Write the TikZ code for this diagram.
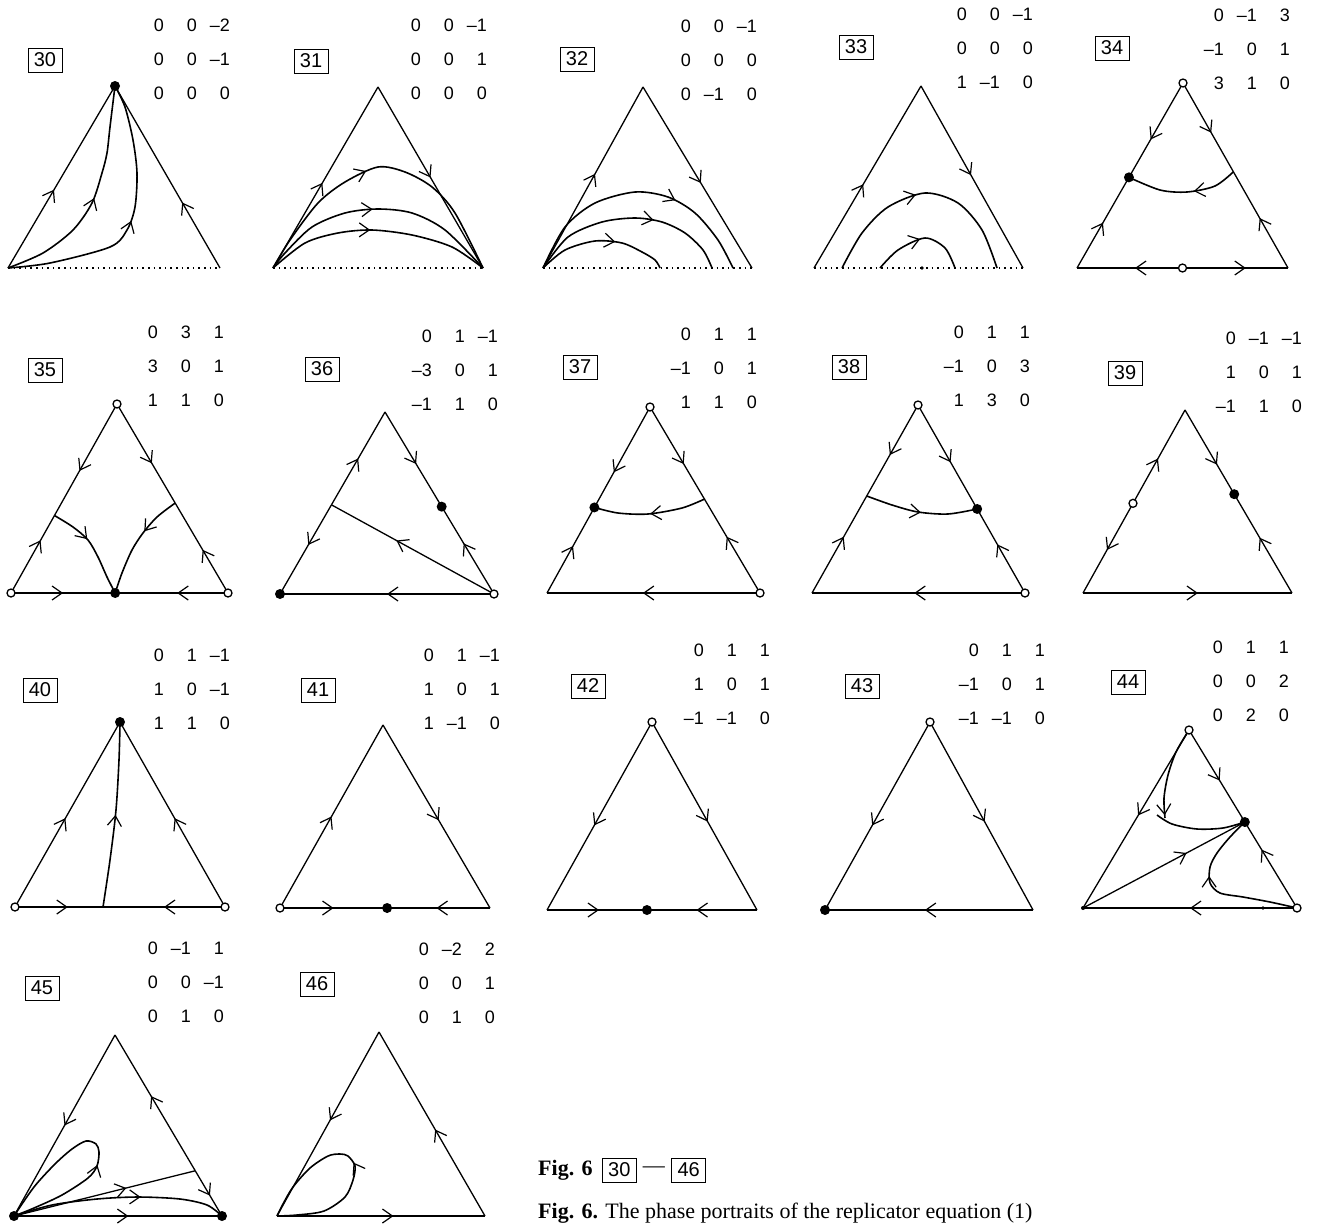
\documentclass[tikz,border=0pt]{standalone}
\usepackage{fontspec}
\setmainfont{Liberation Serif}
\setsansfont{Liberation Sans}
\usetikzlibrary{arrows.meta,decorations.markings,calc,positioning}
\tikzset{
  edge/.style={line width=1.3pt},
  orbit/.style={line width=1.6pt},
  dotbase/.style={line width=1.3pt,dash pattern=on 1.6pt off 4pt},
  flow/.style={postaction={decorate,decoration={markings,mark=at position #1 with {\arrow{Straight Barb[length=10pt,width=14pt,line width=1.2pt]}}}}},
  numbox/.style={draw,line width=1pt,inner sep=1pt,minimum width=34pt,minimum height=24pt,font=\sffamily\fontsize{20}{20}\selectfont},
  entry/.style={anchor=east,inner sep=0pt,font=\sffamily\fontsize{18}{18}\selectfont}
}
\newcommand\tri[6]{\coordinate (#1-L) at (#2,#3); \coordinate (#1-R) at (#4,#3); \coordinate (#1-A) at (#5,#6);}
\newcommand\payoff[3]{\foreach \entr [count=\k from 0] in {#3}{%
  \pgfmathsetmacro\cx{#1-33*(2-mod(\k,3))}\pgfmathsetmacro\cy{#2+34*int(\k/3)}%
  \node[entry] at (\cx,\cy) {\entr};}}
\newcommand\sinkat[1]{\fill (#1) circle (5pt);}
\newcommand\srcat[1]{\draw[edge,fill=white] (#1) circle (4pt);}
\begin{document}
\begin{tikzpicture}[x=1pt,y=-1pt]
  \fill[white] (0,0) rectangle (1324,1224);
  \useasboundingbox (0,0) rectangle (1324,1224);
  % 30
  \tri{p30}{8}{268}{220}{115}{86}
  \draw[dotbase] (p30-L) -- (p30-R);
  \draw[edge,flow=0.43] (p30-L) -- (p30-A);
  \draw[edge,flow=0.36] (p30-R) -- (p30-A);
  \draw[orbit,flow=0.5] plot[smooth] coordinates {(p30-L) (43,253) (73,230) (92,203) (102,173) (107,153) (110,127) (p30-A)};
  \draw[orbit,flow=0.5] plot[smooth] coordinates {(p30-L) (50,263) (110,247) (127,230) (135,207) (137,173) (133,140) (125,107) (p30-A)};
  \sinkat{p30-A}
  \node[numbox] (n30) at (45,60) {30};
  \payoff{230}{25}{0,0,--2,0,0,--1,0,0,0}
  % 31
  \tri{p31}{273}{268}{483}{378}{87}
  \draw[dotbase] (p31-L) -- (p31-R);
  \draw[edge,flow=0.47] (p31-L) -- (p31-A);
  \draw[edge,flow=0.5] (p31-A) -- (p31-R);
  \draw[orbit,flow=0.45] plot[smooth] coordinates {(p31-L) (290,240) (318,203) (345,182) (378,167) (405,172) (432,187) (455,213) (p31-R)};
  \draw[orbit,flow=0.48] plot[smooth] coordinates {(p31-L) (285,253) (312,227) (345,213) (378,209) (412,213) (445,230) (p31-R)};
  \draw[orbit,flow=0.47] plot[smooth] coordinates {(p31-L) (305,243) (338,233) (372,230) (412,235) (452,247) (p31-R)};
  \node[numbox] (n31) at (311,61) {31};
  \payoff{487}{25}{0,0,--1,0,0,1,0,0,0}
  % 32
  \tri{p32}{543}{268}{752}{643}{87}
  \draw[dotbase] (p32-L) -- (p32-R);
  \draw[edge,flow=0.52] (p32-L) -- (p32-A);
  \draw[edge,flow=0.53] (p32-A) -- (p32-R);
  \draw[orbit,flow=0.65] plot[smooth] coordinates {(p32-L) (565,227) (595,203) (635,192) (668,197) (695,213) (718,240) (733,268)};
  \draw[orbit,flow=0.62] plot[smooth] coordinates {(p32-L) (568,237) (602,222) (635,218) (662,222) (685,233) (703,250) (712,268)};
  \draw[orbit,flow=0.6] plot[smooth] coordinates {(p32-L) (565,250) (595,241) (622,243) (642,252) (655,260) (660,268)};
  \node[numbox] (n32) at (577,59) {32};
  \payoff{757}{26}{0,0,--1,0,0,0,0,--1,0}
  % 33
  \tri{p33}{814}{268}{1023}{921}{86}
  \draw[dotbase] (p33-L) -- (p33-R);
  \draw[edge,flow=0.46] (p33-L) -- (p33-A);
  \draw[edge,flow=0.49] (p33-A) -- (p33-R);
  \draw[orbit,flow=0.47] plot[smooth] coordinates {(842,268) (862,233) (888,207) (925,193) (958,203) (982,230) (997,268)};
  \draw[orbit,flow=0.5] plot[smooth] coordinates {(880,268) (898,250) (925,238) (945,248) (955,268)};
  \fill (922,268) circle (1.8pt);
  \node[numbox] (n33) at (856,47) {33};
  \payoff{1033}{14}{0,0,--1,0,0,0,1,--1,0}
  % 34
  \tri{p34}{1077}{268}{1288}{1183}{83}
  \coordinate (p34-D) at ($(p34-L)!0.49!(p34-A)$);
  \coordinate (p34-Q) at ($(p34-A)!0.48!(p34-R)$);
  \coordinate (p34-M) at ($(p34-L)!0.5!(p34-R)$);
  \draw[edge,flow=0.6] (p34-A) -- (p34-D);
  \draw[edge,flow=0.5] (p34-L) -- (p34-D);
  \draw[edge,flow=0.56] (p34-A) -- (p34-Q);
  \draw[edge,flow=0.52] (p34-R) -- (p34-Q);
  \draw[edge,flow=0.45] (p34-M) -- (p34-L);
  \draw[edge,flow=0.6] (p34-M) -- (p34-R);
  \draw[orbit,flow=0.4] plot[smooth] coordinates {(p34-Q) (1215,186) (1187,192) (1160,190) (p34-D)};
  \srcat{p34-A} \srcat{p34-M} \sinkat{p34-D}
  \node[numbox] (n34) at (1112,48) {34};
  \payoff{1290}{15}{0,--1,3,--1,0,1,3,1,0}
  % 35
  \tri{p35}{11}{593}{228}{117}{404}
  \coordinate (p35-M) at ($(p35-L)!0.48!(p35-R)$);
  \coordinate (p35-S) at ($(p35-L)!0.41!(p35-A)$);
  \coordinate (p35-T) at ($(p35-R)!0.476!(p35-A)$);
  \draw[edge,flow=0.6] (p35-A) -- (p35-S);
  \draw[edge,flow=0.68] (p35-L) -- (p35-S);
  \draw[edge,flow=0.6] (p35-A) -- (p35-T);
  \draw[edge,flow=0.48] (p35-R) -- (p35-T);
  \draw[edge,flow=0.5] (p35-L) -- (p35-M);
  \draw[edge,flow=0.45] (p35-R) -- (p35-M);
  \draw[orbit,flow=0.4] plot[smooth] coordinates {(p35-S) (73,527) (88,540) (98,557) (107,577) (p35-M)};
  \draw[orbit,flow=0.38] plot[smooth] coordinates {(p35-T) (157,517) (143,533) (132,550) (122,573) (p35-M)};
  \srcat{p35-A} \srcat{p35-L} \srcat{p35-R} \sinkat{p35-M}
  \node[numbox] (n35) at (45,370) {35};
  \payoff{224}{332}{0,3,1,3,0,1,1,1,0}
  % 36
  \tri{p36}{280}{594}{494}{385}{412}
  \coordinate (p36-P) at ($(p36-L)!0.49!(p36-A)$);
  \coordinate (p36-D) at ($(p36-A)!0.52!(p36-R)$);
  \draw[edge,flow=0.5] (p36-P) -- (p36-A);
  \draw[edge,flow=0.45] (p36-P) -- (p36-L);
  \draw[edge,flow=0.55] (p36-A) -- (p36-D);
  \draw[edge,flow=0.58] (p36-R) -- (p36-D);
  \draw[edge,flow=0.5] (p36-R) -- (p36-L);
  \draw[edge,flow=0.6] (p36-R) -- (p36-P);
  \sinkat{p36-L} \srcat{p36-R} \sinkat{p36-D}
  \node[numbox] (n36) at (322,369) {36};
  \payoff{498}{336}{0,1,--1,--3,0,1,--1,1,0}
  % 37
  \tri{p37}{547}{593}{760}{650}{407}
  \coordinate (p37-D) at ($(p37-L)!0.46!(p37-A)$);
  \coordinate (p37-Q) at ($(p37-R)!0.505!(p37-A)$);
  \draw[edge,flow=0.65] (p37-A) -- (p37-D);
  \draw[edge,flow=0.55] (p37-L) -- (p37-D);
  \draw[edge,flow=0.62] (p37-A) -- (p37-Q);
  \draw[edge,flow=0.6] (p37-R) -- (p37-Q);
  \draw[edge,flow=0.55] (p37-R) -- (p37-L);
  \draw[orbit,flow=0.5] plot[smooth] coordinates {(p37-Q) (682,508) (648,514) (618,513) (p37-D)};
  \srcat{p37-A} \srcat{p37-R} \sinkat{p37-D}
  \node[numbox] (n37) at (580,367) {37};
  \payoff{757}{334}{0,1,1,--1,0,1,1,1,0}
  % 38
  \tri{p38}{812}{593}{1025}{918}{405}
  \coordinate (p38-Q) at ($(p38-L)!0.516!(p38-A)$);
  \coordinate (p38-D) at ($(p38-A)!0.553!(p38-R)$);
  \draw[edge,flow=0.55] (p38-A) -- (p38-Q);
  \draw[edge,flow=0.58] (p38-L) -- (p38-Q);
  \draw[edge,flow=0.55] (p38-A) -- (p38-D);
  \draw[edge,flow=0.58] (p38-R) -- (p38-D);
  \draw[edge,flow=0.52] (p38-R) -- (p38-L);
  \draw[orbit,flow=0.5] plot[smooth] coordinates {(p38-Q) (892,505) (918,512) (948,514) (p38-D)};
  \srcat{p38-A} \srcat{p38-R} \sinkat{p38-D}
  \node[numbox] (n38) at (849,367) {38};
  \payoff{1030}{332}{0,1,1,--1,0,3,1,3,0}
  % 39
  \tri{p39}{1083}{593}{1292}{1185}{410}
  \coordinate (p39-O) at ($(p39-L)!0.49!(p39-A)$);
  \coordinate (p39-D) at ($(p39-A)!0.46!(p39-R)$);
  \draw[edge,flow=0.48] (p39-O) -- (p39-A);
  \draw[edge,flow=0.52] (p39-O) -- (p39-L);
  \draw[edge,flow=0.65] (p39-A) -- (p39-D);
  \draw[edge,flow=0.56] (p39-R) -- (p39-D);
  \draw[edge,flow=0.55] (p39-L) -- (p39-R);
  \srcat{p39-O} \sinkat{p39-D}
  \node[numbox] (n39) at (1125,373) {39};
  \payoff{1302}{338}{0,--1,--1,1,0,1,--1,1,0}
  % 40
  \tri{p40}{15}{907}{225}{120}{722}
  \coordinate (p40-B) at (103,907);
  \draw[edge,flow=0.6] (p40-L) -- (p40-B);
  \draw[edge,flow=0.5] (p40-R) -- (p40-B);
  \draw[edge,flow=0.48] (p40-L) -- (p40-A);
  \draw[edge,flow=0.48] (p40-R) -- (p40-A);
  \draw[orbit,flow=0.5] plot[smooth] coordinates {(p40-B) (110,860) (116,810) (119,760) (p40-A)};
  \srcat{p40-L} \srcat{p40-R} \sinkat{p40-A}
  \node[numbox] (n40) at (40,690) {40};
  \payoff{230}{655}{0,1,--1,1,0,--1,1,1,0}
  % 41
  \tri{p41}{280}{908}{490}{383}{725}
  \coordinate (p41-D) at ($(p41-L)!0.51!(p41-R)$);
  \draw[edge,flow=0.5] (p41-L) -- (p41-D);
  \draw[edge,flow=0.52] (p41-R) -- (p41-D);
  \draw[edge,flow=0.5] (p41-L) -- (p41-A);
  \draw[edge,flow=0.52] (p41-A) -- (p41-R);
  \srcat{p41-L} \sinkat{p41-D}
  \node[numbox] (n41) at (318,690) {41};
  \payoff{500}{655}{0,1,--1,1,0,1,1,--1,0}
  % 42
  \tri{p42}{547}{910}{757}{652}{722}
  \coordinate (p42-D) at ($(p42-L)!0.476!(p42-R)$);
  \draw[edge,flow=0.52] (p42-L) -- (p42-D);
  \draw[edge,flow=0.55] (p42-R) -- (p42-D);
  \draw[edge,flow=0.55] (p42-A) -- (p42-L);
  \draw[edge,flow=0.53] (p42-A) -- (p42-R);
  \srcat{p42-A} \sinkat{p42-D}
  \node[numbox] (n42) at (588,686) {42};
  \payoff{770}{650}{0,1,1,1,0,1,--1,--1,0}
  % 43
  \tri{p43}{825}{910}{1033}{930}{722}
  \draw[edge,flow=0.52] (p43-R) -- (p43-L);
  \draw[edge,flow=0.55] (p43-A) -- (p43-L);
  \draw[edge,flow=0.53] (p43-A) -- (p43-R);
  \srcat{p43-A} \sinkat{p43-L}
  \node[numbox] (n43) at (862,686) {43};
  \payoff{1045}{650}{0,1,1,--1,0,1,--1,--1,0}
  % 44
  \tri{p44}{1083}{908}{1297}{1189}{730}
  \coordinate (p44-D) at ($(p44-A)!0.517!(p44-R)$);
  \draw[edge,flow=0.55] (p44-A) -- (p44-D);
  \draw[edge,flow=0.68] (p44-R) -- (p44-D);
  \draw[edge,flow=0.48] (p44-A) -- (p44-L);
  \draw[edge,flow=0.5] (p44-R) -- (p44-L);
  \draw[edge,flow=0.64] (p44-L) -- (p44-D);
  \draw[orbit,flow=0.97] plot[smooth] coordinates {(p44-A) (1176,752) (1168,775) (1164,798) (1165,818)};
  \draw[orbit] plot[smooth] coordinates {(1157,815) (1172,824) (1197,829) (1223,828) (p44-D)};
  \draw[orbit,flow=0.6] plot[smooth] coordinates {(p44-R) (1270,902) (1243,897) (1220,893) (1210,883) (1210,867) (1217,853) (1230,837) (p44-D)};
  \fill (1263,908) circle (1.8pt);
  \fill (p44-L) circle (2pt);
  \srcat{p44-A} \srcat{p44-R} \sinkat{p44-D}
  \node[numbox] (n44) at (1128,682) {44};
  \payoff{1289}{647}{0,1,1,0,0,2,0,2,0}
  % 45
  \tri{p45}{14}{1216}{222}{115}{1035}
  \coordinate (p45-Q) at ($(p45-R)!0.25!(p45-A)$);
  \draw[edge,flow=0.5] (p45-A) -- (p45-L);
  \draw[edge,flow=0.55] (p45-Q) -- (p45-A);
  \draw[edge,flow=0.55] (p45-Q) -- (p45-R);
  \draw[edge,flow=0.55] (p45-L) -- (p45-R);
  \draw[edge,flow=0.62] (p45-L) -- (p45-Q);
  \draw[orbit,flow=0.6] plot[smooth] coordinates {(p45-L) (52,1205) (97,1199) (138,1197) (180,1199) (207,1205) (p45-R)};
  \draw[orbit,flow=0.42] plot[smooth] coordinates {(p45-L) (34,1208) (62,1195) (88,1178) (97,1166) (99,1152) (96,1144) (86,1141) (72,1149) (55,1164) (34,1187) (p45-L)};
  \sinkat{p45-L} \sinkat{p45-R}
  \node[numbox] (n45) at (42,988) {45};
  \payoff{224}{948}{0,--1,1,0,0,--1,0,1,0}
  % 46
  \tri{p46}{277}{1216}{485}{379}{1032}
  \draw[edge,flow=0.48] (p46-A) -- (p46-L);
  \draw[edge,flow=0.47] (p46-R) -- (p46-A);
  \draw[edge,flow=0.56] (p46-L) -- (p46-R);
  \draw[orbit,flow=0.5] plot[smooth] coordinates {(p46-L) (297,1215) (324,1211) (345,1197) (353,1180) (355,1166) (348,1156) (340,1154) (328,1156) (310,1168) (293,1187) (283,1204) (p46-L)};
  \node[numbox] (n46) at (317,984) {46};
  \payoff{495}{949}{0,--2,2,0,0,1,0,1,0}
  % caption
  \node[anchor=west,inner sep=0pt,font=\fontsize{22}{22}\selectfont\bfseries] (fig) at (538,1170) {Fig. 6};
  \node[numbox,right=9pt of fig] (c30) {30};
  \node[right=6pt of c30,inner sep=0pt,font=\fontsize{22}{22}\selectfont] (cdash) {---};
  \node[numbox,right=6pt of cdash] (c46) {46};
  \node[anchor=west,inner sep=0pt,font=\fontsize{22}{22}\selectfont] (cap) at (538,1213) {\textbf{Fig. 6.} The phase portraits of the replicator equation (1)};
\end{tikzpicture}
\end{document}
